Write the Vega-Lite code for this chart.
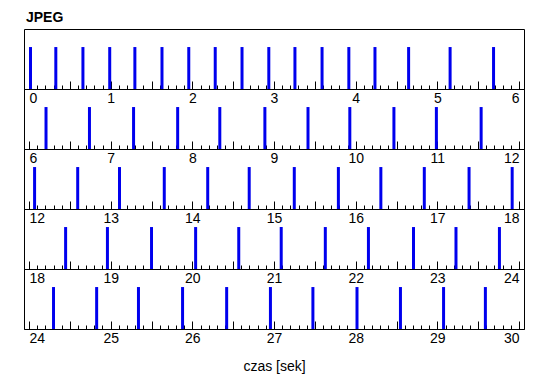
{
  "$schema": "https://vega.github.io/schema/vega-lite/v6.json",
  "padding": {"left": 23, "top": 10, "right": 5, "bottom": 5},
  "background": "white",
  "bounds": "flush",
  "spacing": 0,
  "title": {"text": "JPEG", "anchor": "start", "frame": "group", "dx": 2, "font": "Liberation Sans", "fontSize": 14, "fontWeight": "bold", "color": "black", "offset": 4},
  "datasets": {
    "frames": [
      {"t": 0.0}, {"t": 0.31}, {"t": 0.642}, {"t": 0.97}, {"t": 1.278}, {"t": 1.61}, {"t": 1.938}, {"t": 2.262}, {"t": 2.59}, {"t": 2.918}, {"t": 3.238}, {"t": 3.57}, {"t": 3.898}, {"t": 4.218}, {"t": 4.63}, {"t": 5.138}, {"t": 5.67},
      {"t": 6.19}, {"t": 6.722}, {"t": 7.262}, {"t": 7.802}, {"t": 8.318}, {"t": 8.87}, {"t": 9.398}, {"t": 9.91}, {"t": 10.45}, {"t": 10.97}, {"t": 11.518},
      {"t": 12.05}, {"t": 12.578}, {"t": 13.09}, {"t": 13.638}, {"t": 14.17}, {"t": 14.678}, {"t": 15.23}, {"t": 15.77}, {"t": 16.29}, {"t": 16.822}, {"t": 17.37}, {"t": 17.898},
      {"t": 18.43}, {"t": 18.942}, {"t": 19.482}, {"t": 20.022}, {"t": 20.55}, {"t": 21.07}, {"t": 21.61}, {"t": 22.138}, {"t": 22.69}, {"t": 23.21}, {"t": 23.742},
      {"t": 24.282}, {"t": 24.81}, {"t": 25.322}, {"t": 25.862}, {"t": 26.402}, {"t": 26.938}, {"t": 27.458}, {"t": 27.998}, {"t": 28.53}, {"t": 29.058}, {"t": 29.57}
    ]
  },
  "vconcat": [
    {
      "width": 500, "height": 60,
      "data": {"name": "frames"},
      "transform": [{"filter": {"field": "t", "range": [0, 6]}}],
      "mark": {"type": "bar", "width": 3, "color": "#0000ee", "xOffset": 1.5, "clip": true},
      "encoding": {
        "x": {"field": "t", "type": "quantitative", "scale": {"domain": [0, 6], "nice": false, "zero": false},
          "axis": {"title": null, "tickCount": 60, "labelOverlap": false, "labelFlush": false,
            "labelExpr": "datum.value % 1 == 0 ? format(datum.value, 'd') : ''",
            "labelAlign": {"condition": [{"test": "datum.value == 0", "value": "left"}, {"test": "datum.value == 6", "value": "right"}], "value": "center"},
            "tickSize": {"condition": {"test": "round(datum.value * 10) % 5 == 0", "value": -8}, "value": -4}}},
        "y": {"datum": 1, "type": "quantitative", "scale": {"domain": [0, 1.43]}, "axis": null}
      }
    },
    {
      "width": 500, "height": 60,
      "data": {"name": "frames"},
      "transform": [{"filter": {"field": "t", "range": [6, 12]}}],
      "mark": {"type": "bar", "width": 3, "color": "#0000ee", "xOffset": 1.5, "clip": true},
      "encoding": {
        "x": {"field": "t", "type": "quantitative", "scale": {"domain": [6, 12], "nice": false, "zero": false},
          "axis": {"title": null, "tickCount": 60, "labelOverlap": false, "labelFlush": false,
            "labelExpr": "datum.value % 1 == 0 ? format(datum.value, 'd') : ''",
            "labelAlign": {"condition": [{"test": "datum.value == 6", "value": "left"}, {"test": "datum.value == 12", "value": "right"}], "value": "center"},
            "tickSize": {"condition": {"test": "round(datum.value * 10) % 5 == 0", "value": -8}, "value": -4}}},
        "y": {"datum": 1, "type": "quantitative", "scale": {"domain": [0, 1.43]}, "axis": null}
      }
    },
    {
      "width": 500, "height": 60,
      "data": {"name": "frames"},
      "transform": [{"filter": {"field": "t", "range": [12, 18]}}],
      "mark": {"type": "bar", "width": 3, "color": "#0000ee", "xOffset": 1.5, "clip": true},
      "encoding": {
        "x": {"field": "t", "type": "quantitative", "scale": {"domain": [12, 18], "nice": false, "zero": false},
          "axis": {"title": null, "tickCount": 60, "labelOverlap": false, "labelFlush": false,
            "labelExpr": "datum.value % 1 == 0 ? format(datum.value, 'd') : ''",
            "labelAlign": {"condition": [{"test": "datum.value == 12", "value": "left"}, {"test": "datum.value == 18", "value": "right"}], "value": "center"},
            "tickSize": {"condition": {"test": "round(datum.value * 10) % 5 == 0", "value": -8}, "value": -4}}},
        "y": {"datum": 1, "type": "quantitative", "scale": {"domain": [0, 1.43]}, "axis": null}
      }
    },
    {
      "width": 500, "height": 60,
      "data": {"name": "frames"},
      "transform": [{"filter": {"field": "t", "range": [18, 24]}}],
      "mark": {"type": "bar", "width": 3, "color": "#0000ee", "xOffset": 1.5, "clip": true},
      "encoding": {
        "x": {"field": "t", "type": "quantitative", "scale": {"domain": [18, 24], "nice": false, "zero": false},
          "axis": {"title": null, "tickCount": 60, "labelOverlap": false, "labelFlush": false,
            "labelExpr": "datum.value % 1 == 0 ? format(datum.value, 'd') : ''",
            "labelAlign": {"condition": [{"test": "datum.value == 18", "value": "left"}, {"test": "datum.value == 24", "value": "right"}], "value": "center"},
            "tickSize": {"condition": {"test": "round(datum.value * 10) % 5 == 0", "value": -8}, "value": -4}}},
        "y": {"datum": 1, "type": "quantitative", "scale": {"domain": [0, 1.43]}, "axis": null}
      }
    },
    {
      "width": 500, "height": 60,
      "data": {"name": "frames"},
      "transform": [{"filter": {"field": "t", "range": [24, 30]}}],
      "mark": {"type": "bar", "width": 3, "color": "#0000ee", "xOffset": 1.5, "clip": true},
      "encoding": {
        "x": {"field": "t", "type": "quantitative", "scale": {"domain": [24, 30], "nice": false, "zero": false},
          "axis": {"title": "czas [sek]", "titlePadding": 10, "tickCount": 60, "labelOverlap": false, "labelFlush": false,
            "labelExpr": "datum.value % 1 == 0 ? format(datum.value, 'd') : ''",
            "labelAlign": {"condition": [{"test": "datum.value == 24", "value": "left"}, {"test": "datum.value == 30", "value": "right"}], "value": "center"},
            "tickSize": {"condition": {"test": "round(datum.value * 10) % 5 == 0", "value": -8}, "value": -4}}},
        "y": {"datum": 1, "type": "quantitative", "scale": {"domain": [0, 1.43]}, "axis": null}
      }
    }
  ],
  "config": {
    "view": {"stroke": "black", "strokeWidth": 1},
    "axis": {
      "grid": false,
      "domainColor": "black", "domainWidth": 1,
      "tickColor": "black", "tickWidth": 1,
      "labelFont": "Liberation Sans", "labelFontSize": 14, "labelColor": "black", "labelPadding": 10,
      "titleFont": "Liberation Sans", "titleFontSize": 14, "titleFontWeight": "normal", "titleColor": "black"
    }
  }
}
